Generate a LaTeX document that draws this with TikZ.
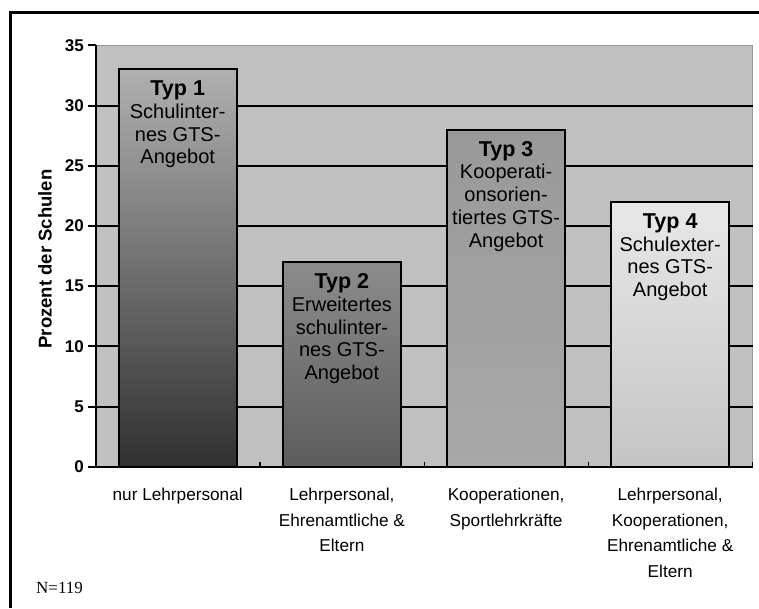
\documentclass[tikz,border=0pt]{standalone}
\usepackage{fontspec}
\setmainfont{Liberation Sans}
\newfontfamily\notefont{Liberation Serif}
\definecolor{plotbg}{HTML}{C0C0C0}
\definecolor{plotedge}{HTML}{9A9A9A}
\definecolor{barAtop}{HTML}{B0B0B0}
\definecolor{barAbot}{HTML}{303030}
\definecolor{barBtop}{HTML}{8C8C8C}
\definecolor{barBbot}{HTML}{5C5C5C}
\definecolor{barCtop}{HTML}{999999}
\definecolor{barCbot}{HTML}{A8A8A8}
\definecolor{barDtop}{HTML}{E8E8E8}
\definecolor{barDbot}{HTML}{C4C4C4}
\begin{document}
\begin{tikzpicture}[x=1pt, y=-1pt,
    gridline/.style={line width=2pt},
    barbox/.style={draw, line width=2pt},
    typtext/.style={anchor=north, align=center, inner sep=0pt, font=\fontsize{20}{22.7}\selectfont},
    cattext/.style={anchor=north, align=center, inner sep=0pt, font=\fontsize{17.2}{25.5}\selectfont},
    ticktext/.style={anchor=east, inner sep=0pt, font=\fontsize{17}{19}\selectfont\bfseries}]
    \useasboundingbox (0,0) rectangle (759,608);
    \fill[white] (0,0) rectangle (759,608);
    % outer frame
    \draw[line width=3pt] (10,608) -- (10,12) -- (759,12);

    % data part: x in pt, y in percent
    \begin{scope}[shift={(0,466.7)}, y=12.04pt]
        \fill[plotbg] (96,0) rectangle (752.7,35);
        \draw[plotedge, line width=1.2pt] (96,35) -- (752.7,35) -- (752.7,0);
        \foreach \v in {5,10,...,30}
            \draw[gridline] (96,\v) -- (752.7,\v);

        % bars
        \path[barbox, top color=barAtop, bottom color=barAbot] (118.8,0) rectangle (236.6,33);
        \path[barbox, top color=barBtop, bottom color=barBbot] (283.0,0) rectangle (400.8,17);
        \path[barbox, top color=barCtop, bottom color=barCbot] (447.2,0) rectangle (565.0,28);
        \path[barbox, top color=barDtop, bottom color=barDbot] (611.3,0) rectangle (729.1,22);

        % axes
        \draw[line width=2pt] (96,35) -- (96,0) -- (752.7,0);
        \foreach \v in {0,5,...,35} {
            \draw[gridline] (88,\v) -- (96,\v);
            \node[ticktext] (ytick\v) at (84,\v) {\v};
        }
        \foreach \t in {1,2,3,4}
            \draw[line width=1.4pt] (96+164.18*\t,0) -- (96+164.18*\t,0.35);

        % labels inside the bars
        \node[typtext] (typ1) at (177.7,33) [yshift=-11.5pt] {{\fontsize{21.5}{24}\selectfont\bfseries Typ 1}\\Schulinter-\\nes GTS-\\Angebot};
        \node[typtext] (typ2) at (341.9,17) [yshift=-11.5pt] {{\fontsize{21.5}{24}\selectfont\bfseries Typ 2}\\Erweitertes\\schulinter-\\nes GTS-\\Angebot};
        \node[typtext] (typ3) at (506.1,28) [yshift=-11.5pt] {{\fontsize{21.5}{24}\selectfont\bfseries Typ 3}\\Kooperati-\\onsorien-\\tiertes GTS-\\Angebot};
        \node[typtext] (typ4) at (670.2,22) [yshift=-11.5pt] {{\fontsize{21.5}{24}\selectfont\bfseries Typ 4}\\Schulexter-\\nes GTS-\\Angebot};
    \end{scope}

    % categories
    \node[cattext] (cat1) at (177.7,488) {nur Lehrpersonal};
    \node[cattext] (cat2) at (341.9,488) {Lehrpersonal,\\Ehrenamtliche \&\\Eltern};
    \node[cattext] (cat3) at (506.1,488) {Kooperationen,\\Sportlehrkräfte};
    \node[cattext] (cat4) at (670.2,488) {Lehrpersonal,\\Kooperationen,\\Ehrenamtliche \&\\Eltern};

    \node[rotate=90, font=\fontsize{18.5}{21}\selectfont\bfseries] (ytitle) at (45,259) {Prozent der Schulen};
    \node[anchor=west, inner sep=0pt, font=\notefont\fontsize{17}{20}\selectfont] (nnote) at (36,588) {N=119};
\end{tikzpicture}
\end{document}
